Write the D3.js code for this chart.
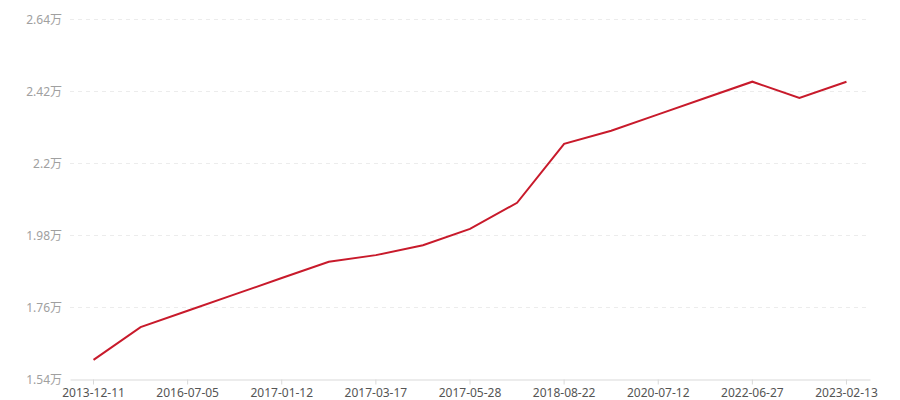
<!DOCTYPE html>
<html>
<head>
<meta charset="utf-8">
<script src="https://cdn.jsdelivr.net/npm/d3@7"></script>
<style>
  body { margin: 0; background: #fff; }
  svg text { font-family: "Segoe UI", "Noto Sans", "Noto Sans CJK SC", sans-serif; font-size: 12px; }
</style>
</head>
<body>
<div id="chart"></div>
<script>
// dates (only every other one is labelled on the axis)
const dates = [
  '2013-12-11', '2015-03-20', '2016-07-05', '2016-10-08', '2017-01-12',
  '2017-02-14', '2017-03-17', '2017-04-21', '2017-05-28', '2017-11-10',
  '2018-08-22', '2019-07-15', '2020-07-12', '2021-06-20', '2022-06-27',
  '2022-10-18', '2023-02-13'
];
// values in 万
const values = [
  1.60, 1.70, 1.75, 1.80, 1.85, 1.90, 1.92, 1.95, 2.00, 2.08,
  2.26, 2.30, 2.35, 2.40, 2.45, 2.40, 2.45
];
const yTicks = [1.54, 1.76, 1.98, 2.2, 2.42, 2.64];

const width = 900, height = 400;
const margin = { top: 19.5, right: 30, bottom: 20.5, left: 70 };
const innerW = width - margin.left - margin.right;
const innerH = height - margin.top - margin.bottom;

const svg = d3.select('#chart')
  .append('svg')
  .attr('width', width)
  .attr('height', height);

const g = svg.append('g')
  .attr('transform', `translate(${margin.left}, ${margin.top})`);

const x = d3.scaleBand().domain(dates).range([0, innerW]);
const y = d3.scaleLinear().domain([1.54, 2.64]).range([innerH, 0]);

// ----------- GRID ------------
g.selectAll('.grid')
  .data(yTicks.slice(1))
  .enter()
  .append('line')
  .attr('class', 'grid')
  .attr('x1', 0)
  .attr('x2', innerW)
  .attr('y1', (d) => y(d))
  .attr('y2', (d) => y(d))
  .attr('stroke', '#ececec')
  .attr('stroke-dasharray', '4,4');

// ----------- Y LABELS ------------
g.selectAll('.ylab')
  .data(yTicks)
  .enter()
  .append('text')
  .attr('class', 'ylab')
  .attr('x', -8)
  .attr('y', (d) => y(d))
  .attr('dy', '0.35em')
  .attr('text-anchor', 'end')
  .attr('fill', '#a0a0a0')
  .text((d) => d + '万');

// ----------- X AXIS ------------
const xAxis = g.append('g')
  .attr('transform', `translate(0, ${innerH})`)
  .call(
    d3.axisBottom(x)
      .tickValues(dates.filter((d, i) => i % 2 === 0))
      .tickSize(5)
      .tickPadding(4)
      .tickSizeOuter(0)
  );
xAxis.select('.domain').attr('stroke', '#d9d9d9');
xAxis.selectAll('.tick line').attr('stroke', '#d9d9d9');
xAxis.selectAll('.tick text')
  .attr('fill', '#555')
  .style('font-size', '12px');

// ----------- LINE ------------
const line = d3.line()
  .x((d, i) => x(dates[i]) + x.bandwidth() / 2)
  .y((d) => y(d));

g.append('path')
  .datum(values)
  .attr('d', line)
  .attr('fill', 'none')
  .attr('stroke', '#c81a2b')
  .attr('stroke-width', 2);
</script>
</body>
</html>
